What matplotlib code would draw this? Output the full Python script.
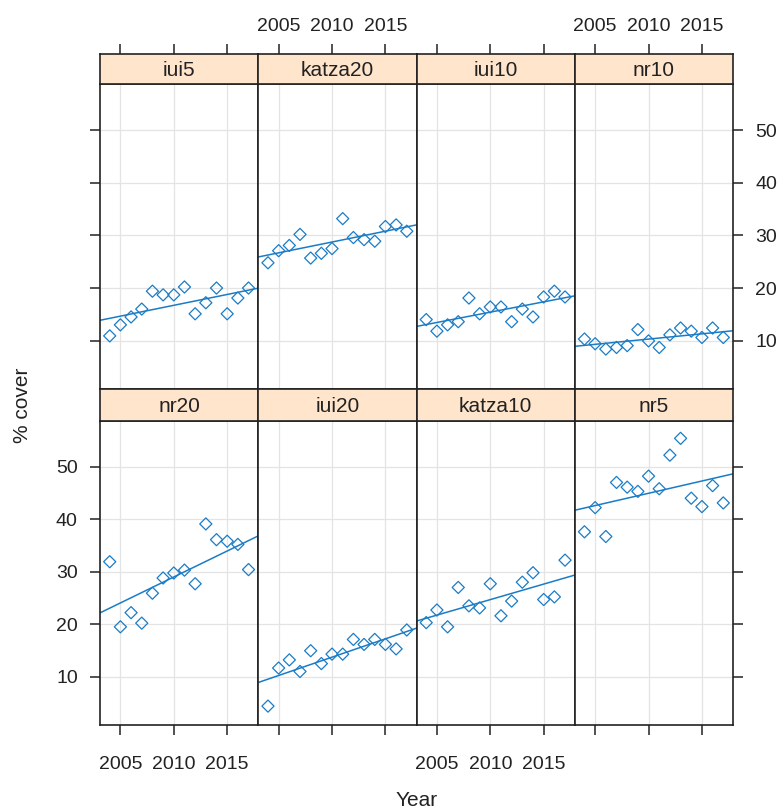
import numpy as np
import matplotlib.pyplot as plt

plt.rcParams["font.family"] = ["Liberation Sans", "DejaVu Sans"]

# ── Data: % cover per site/depth, 2004-2017 ───────────────────────────────────

years = np.arange(2004, 2018)

iui5    = [10.9, 13.0, 14.5, 16.0, 19.4, 18.7, 18.7, 20.2, 15.1, 17.2, 20.0, 15.1, 18.1, 20.0]
katza20 = [24.8, 27.1, 28.1, 30.2, 25.7, 26.6, 27.5, 33.2, 29.6, 29.2, 28.9, 31.7, 32.0, 30.8]
iui10   = [14.0, 11.8, 13.0, 13.6, 18.1, 15.1, 16.4, 16.4, 13.6, 16.0, 14.5, 18.3, 19.4, 18.3]
nr10    = [10.3,  9.4,  8.4,  8.7,  9.05, 12.1, 9.95, 8.7, 11.1, 12.4, 11.8, 10.6, 12.4, 10.6]
nr20    = [31.9, 19.5, 22.2, 20.2, 25.9, 28.8, 29.75, 30.3, 27.7, 39.1, 36.1, 35.8, 35.2, 30.4]
iui20   = [ 4.4, 11.65, 13.2, 11.0, 14.95, 12.5, 14.3, 14.3, 17.1, 16.15, 17.1, 16.15, 15.3, 18.9]
katza10 = [20.3, 22.7, 19.5, 27.0, 23.5, 23.1, 27.7, 21.6, 24.4, 28.0, 29.8, 24.7, 25.2, 32.2]
nr5     = [37.6, 42.2, 36.7, 47.0, 46.1, 45.3, 48.2, 45.8, 52.2, 55.4, 44.0, 42.4, 46.4, 43.1]

top_row = [("iui5", iui5), ("katza20", katza20), ("iui10", iui10), ("nr10", nr10)]
bottom_row = [("nr20", nr20), ("iui20", iui20), ("katza10", katza10), ("nr5", nr5)]

x_ticks = [2005, 2010, 2015]
y_ticks = [10, 20, 30, 40, 50]

# ── Layout (pixels) ───────────────────────────────────────────────────────────

W, H = 780, 811
col_left = [100, 258.25, 416.5, 574.75]
col_w = 158.25
rows = [  # (strip top, panel top, panel bottom)
    (54, 84, 389),
    (389, 420.5, 725),
]

pt_col = "#1b7cc6"
ink = "#222222"
xlim = (2003.09, 2017.91)
ylim = (0.8, 58.8)
tick_kw = dict(direction="out", length=7, width=1.1, colors=ink, labelsize=14)


def box(x0, y0, x1, y1):
    return [x0 / W, 1 - y1 / H, (x1 - x0) / W, (y1 - y0) / H]


def frame(ax):
    for sp in ax.spines.values():
        sp.set_color(ink)
        sp.set_linewidth(1.2)


fig = plt.figure(figsize=(W / 100, H / 100), dpi=100)

for r, row in enumerate([top_row, bottom_row]):
    s_top, p_top, p_bot = rows[r]
    for c, (name, vals) in enumerate(row):
        x0 = col_left[c]
        ax = fig.add_axes(box(x0, p_top, x0 + col_w, p_bot))
        vals = np.array(vals, dtype=float)

        ax.set_xlim(*xlim)
        ax.set_ylim(*ylim)
        ax.set_xticks(x_ticks)
        ax.set_yticks(y_ticks)
        ax.grid(True, color="#e4e4e4", linewidth=0.9)
        ax.set_axisbelow(True)

        ax.scatter(years, vals, marker="D", s=38, facecolors="none",
                   edgecolors=pt_col, linewidths=0.9, zorder=3)
        b, a = np.polyfit(years, vals, 1)
        xs = np.array(xlim)
        ax.plot(xs, a + b * xs, color=pt_col, linewidth=1.1, zorder=2)
        frame(ax)

        # lattice-style alternating axes
        ax.tick_params(axis="both", **tick_kw,
                       top=False, bottom=False, left=False, right=False,
                       labeltop=False, labelbottom=False,
                       labelleft=False, labelright=False)
        if r == 1:
            ax.tick_params(axis="x", bottom=True, labelbottom=(c % 2 == 0),
                           pad=15)
        if c == 0:
            ax.tick_params(axis="y", left=True, labelleft=(r == 1), pad=9)
        if c == 3:
            ax.tick_params(axis="y", right=True, labelright=(r == 0), pad=9)

        # strip with panel name; top row carries the upper x axis
        sax = fig.add_axes(box(x0, s_top, x0 + col_w, p_top))
        sax.set_facecolor("#ffe5cc")
        sax.set_xlim(*xlim)
        sax.set_yticks([])
        frame(sax)
        if r == 0:
            sax.set_xticks(x_ticks)
            sax.tick_params(axis="x", **tick_kw, bottom=False,
                            labelbottom=False, top=True,
                            labeltop=(c % 2 == 1), pad=7)
        else:
            sax.set_xticks([])
        sax.text(0.5, 0.45, name, ha="center", va="center", fontsize=15,
                 color=ink, transform=sax.transAxes)

fig.text(22 / W, 1 - 405 / H, "% cover", rotation=90, ha="center",
         va="center", fontsize=15, color=ink)
fig.text(416.5 / W, 1 - 800 / H, "Year", ha="center", va="center",
         fontsize=15, color=ink)

fig.savefig("out.png", dpi=100)
